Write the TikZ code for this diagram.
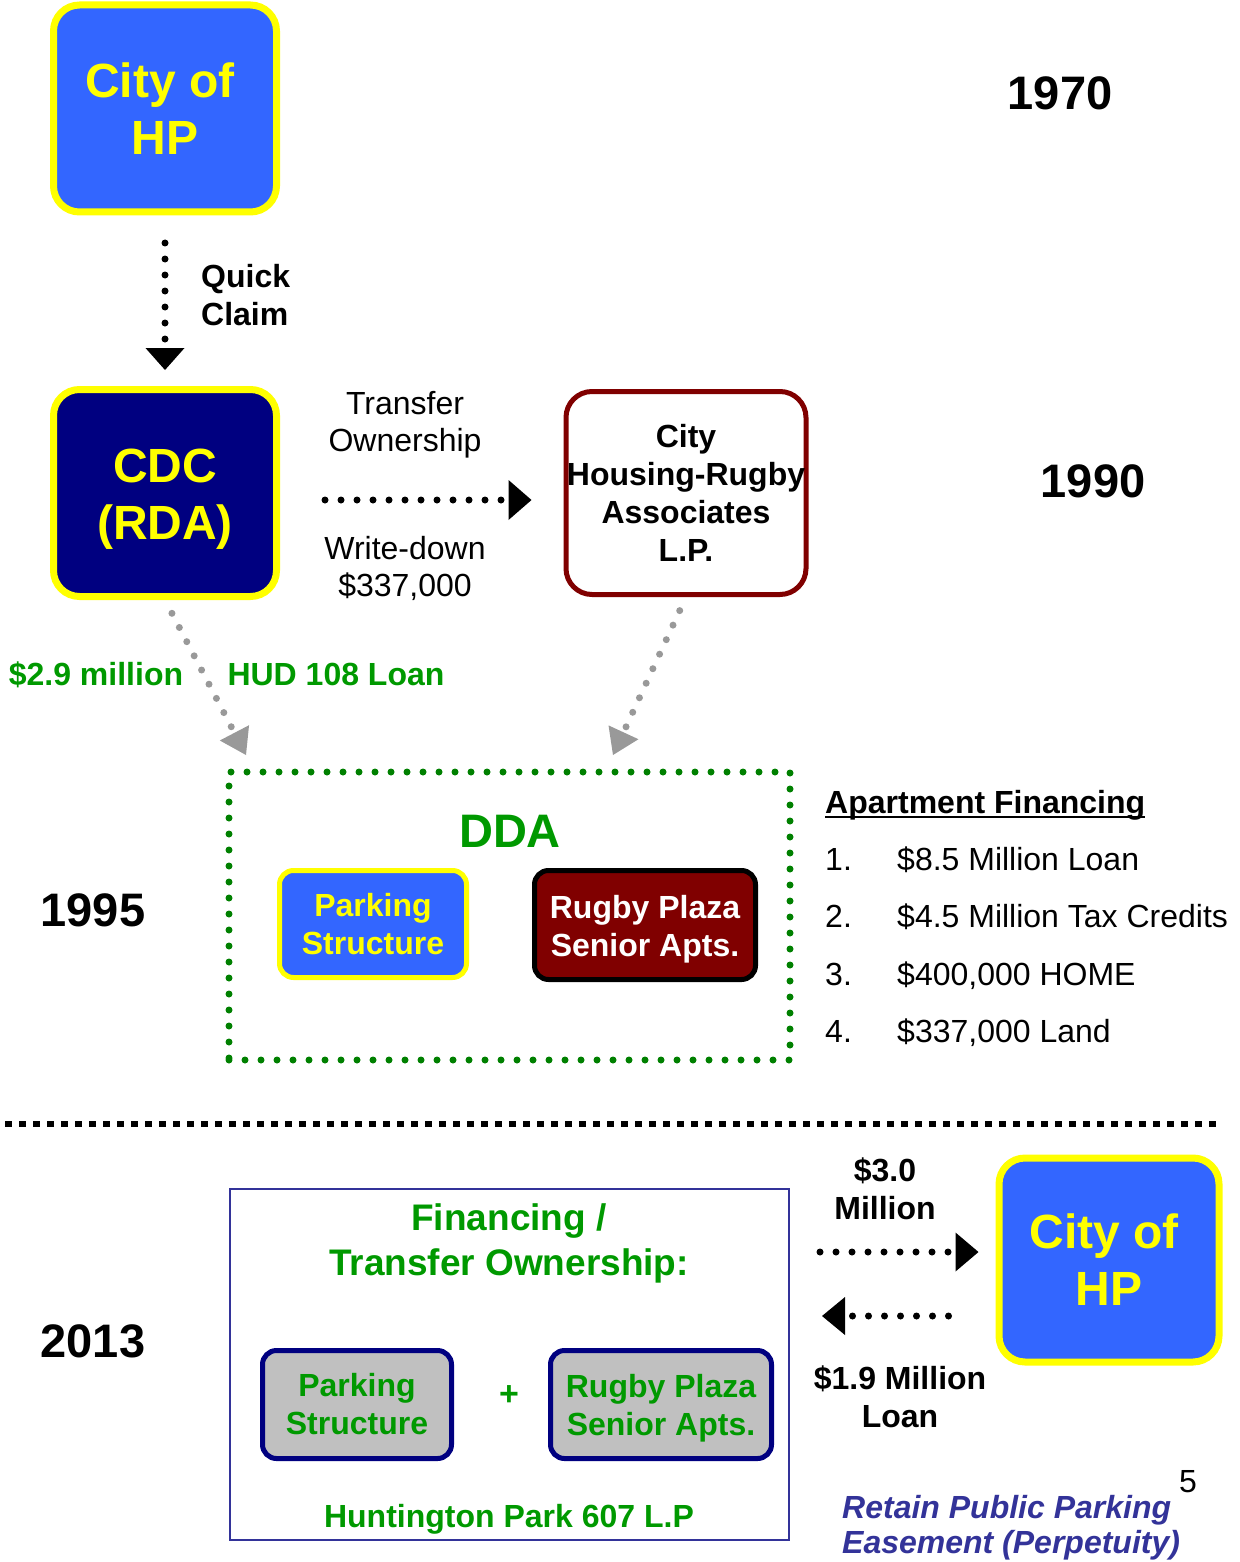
\documentclass[tikz,border=0pt]{standalone}
\usepackage{fontspec}
\setmainfont{Liberation Sans}
\usetikzlibrary{arrows.meta}
\definecolor{hpblue}{HTML}{3366FF}
\definecolor{hpyellow}{HTML}{FFFF00}
\definecolor{hpnavy}{HTML}{000080}
\definecolor{hpred}{HTML}{800000}
\definecolor{hpgreen}{HTML}{009900}
\definecolor{ddagreen}{HTML}{008000}
\definecolor{hpgrey}{HTML}{999999}
\definecolor{boxgrey}{HTML}{C0C0C0}
\definecolor{retain}{HTML}{333399}
\newcommand{\fs}[2]{\fontsize{#1}{#2}\selectfont}
\newcommand{\ulbar}[1]{\setbox0=\hbox{#1}\rlap{\rule[-5pt]{\wd0}{2.5pt}}\box0}
\begin{document}
\begin{tikzpicture}[x=1pt,y=-1pt,
  lbl/.style={inner sep=0pt},
  hpbox/.style={draw=hpyellow, fill=hpblue, text=hpyellow, line width=7pt,
    rounded corners=26pt, minimum width=223pt, minimum height=207pt,
    inner sep=0pt, align=center, font=\bfseries\fs{48}{57}},
  lpbox/.style={draw=hpred, fill=white, line width=5pt, rounded corners=26pt,
    minimum width=240pt, minimum height=203pt, inner sep=0pt, align=center,
    font=\bfseries\fs{32}{38}},
  smallbox/.style={line width=5pt, rounded corners=14pt, inner sep=0pt,
    align=center, font=\bfseries\fs{32}{38}},
  greybox/.style={smallbox, draw=hpnavy, fill=boxgrey, text=hpgreen,
    minimum height=108pt},
  ddabox/.style={draw=ddagreen, line width=7pt, line cap=round,
    dash pattern=on 0pt off 16pt, minimum width=561pt, minimum height=288pt,
    inner sep=0pt},
  blackdots/.style={draw=black, line width=7pt, line cap=round,
    dash pattern=on 0pt off 16pt},
  greydots/.style={draw=hpgrey, line width=7pt, line cap=round,
    dash pattern=on 0pt off 16pt,
    -{Triangle[length=25pt,width=33pt,line width=0pt]}},
  year/.style={lbl, anchor=base, font=\bfseries\fs{47}{56}},
  bodytxt/.style={lbl, font=\fs{32}{37}},
  boldtxt/.style={lbl, font=\bfseries\fs{32}{38}},
  greentxt/.style={lbl, text=hpgreen, font=\bfseries\fs{32}{38}}
]
\useasboundingbox (0,0) rectangle (1239,1562);

% ---- 1970 / 1990 ----
\node[hpbox] (top) at (165,108.5) {City of\hspace*{10pt}\\HP};
\node[year] (y1970) at (1060,110) {1970};
\node[hpbox, fill=hpnavy] (cdc) at (165,493) {\rule{0pt}{45pt}CDC\\(RDA)};
\node[lpbox] (lp) at (686,493) {City\\Housing-Rugby\\Associates\\L.P.};
\node[year] (y1990) at (1093,497) {1990};

\draw[blackdots, shorten <=27.5pt, shorten >=16pt,
  -{Triangle[length=22pt,width=39pt,line width=0pt]}] (top.south) -- (cdc.north);
\node[lbl, anchor=west, align=left, font=\bfseries\fs{32}{38}] (qc) at (201,294.7) {Quick\\Claim};

\node[bodytxt, align=center] (tro) at (405,425) {Transfer\\Ownership};
\draw[blackdots, shorten <=45pt, shorten >=32pt,
  -{Triangle[length=23pt,width=40pt,line width=0pt]}]
  ([yshift=-7pt]cdc.east) -- ([yshift=-7pt]lp.west);
\node[bodytxt, align=center] (wd) at (405,568) {Write-down\\\$337,000};

% ---- grey arrows to DDA ----
\coordinate (g1) at (246,755);
\coordinate (g2) at (613,755);
\draw[greydots, shorten <=15pt] (cdc.south) -- (g1);
\draw[greydots, shorten <=15pt] (lp.south) -- (g2);
\node[greentxt, anchor=base] (m29) at (96,685) {\$2.9 million};
\node[greentxt, anchor=base] (hud) at (336,685) {HUD 108 Loan};

% ---- 1995 DDA ----
\node[ddabox] (dda) at (509.5,916) {};
\node[lbl, anchor=base, text=hpgreen, font=\bfseries\fs{47}{56}] (ddat) at (510,847) {DDA};
\node[smallbox, draw=hpyellow, fill=hpblue, text=hpyellow,
  minimum width=187pt, minimum height=107pt] (park1) at (373,924) {Parking\\Structure};
\node[smallbox, draw=black, fill=hpred, text=white,
  minimum width=221pt, minimum height=109pt] (rug1) at (645,925) {\rule{0pt}{31.5pt}Rugby Plaza\\Senior Apts.};
\node[year] (y1995) at (93,926) {1995};

\node[boldtxt, anchor=base west] (af) at (825,813) {\ulbar{Apartment Financing}};
\node[bodytxt, anchor=base west] (n1) at (825,870) {1.};
\node[bodytxt, anchor=base west] (t1) at (897,870) {\$8.5 Million Loan};
\node[bodytxt, anchor=base west] (n2) at (825,927) {2.};
\node[bodytxt, anchor=base west] (t2) at (897,927) {\$4.5 Million Tax Credits};
\node[bodytxt, anchor=base west] (n3) at (825,985) {3.};
\node[bodytxt, anchor=base west] (t3) at (897,985) {\$400,000 HOME};
\node[bodytxt, anchor=base west] (n4) at (825,1042) {4.};
\node[bodytxt, anchor=base west] (t4) at (897,1042) {\$337,000 Land};

% ---- separator ----
\coordinate (s1) at (5,1124);
\coordinate (s2) at (1222,1124);
\draw[line width=6pt, dash pattern=on 6.5pt off 7.5pt] (s1) -- (s2);

% ---- 2013 ----
\node[year] (y2013) at (93,1357) {2013};
\node[draw=retain, line width=2pt, minimum width=559pt, minimum height=351pt,
  inner sep=0pt] (hp607) at (509.5,1364.5) {};
\node[lbl, align=center, text=hpgreen, font=\bfseries\fs{37}{45}] (fin) at (509,1243)
  {Financing /\\Transfer Ownership:};
\node[greybox, minimum width=189pt] (park2) at (357,1404.5) {Parking\\Structure};
\node[greybox, minimum width=221pt] (rug2) at (661,1404.5) {\rule{0pt}{31.5pt}Rugby Plaza\\Senior Apts.};
\node[lbl, text=hpgreen, font=\bfseries\fs{34}{40}] (plus) at (509,1396) {+};
\node[greentxt, anchor=base] (hpname) at (509,1527) {Huntington Park 607 L.P};

\node[hpbox, minimum width=220pt, minimum height=204pt] (hp2) at (1109,1260) {City of\hspace*{10pt}\\HP};
\node[boldtxt, align=center] (m30) at (885,1189) {\$3.0\\Million};
\coordinate (m1) at (820,1252);
\coordinate (m2) at (822,1316);
\draw[blackdots, shorten >=17pt,
  -{Triangle[length=23pt,width=39pt,line width=0pt]}] (m1) -- ([yshift=8pt]hp2.west);
\draw[blackdots, shorten <=47pt,
  -{Triangle[length=23pt,width=38pt,line width=0pt]}] ([yshift=-56pt]hp2.west) -- (m2);
\node[boldtxt, align=center] (m19) at (900,1396.5) {\$1.9 Million\\Loan};

\node[lbl, anchor=west, align=left, text=retain, font=\bfseries\itshape\fs{32}{35}]
  (ret) at (842,1527.5) {Retain Public Parking\\Easement (Perpetuity)};
\node[lbl, font=\fs{32}{37}] (pg) at (1188,1482) {5};
\end{tikzpicture}
\end{document}
